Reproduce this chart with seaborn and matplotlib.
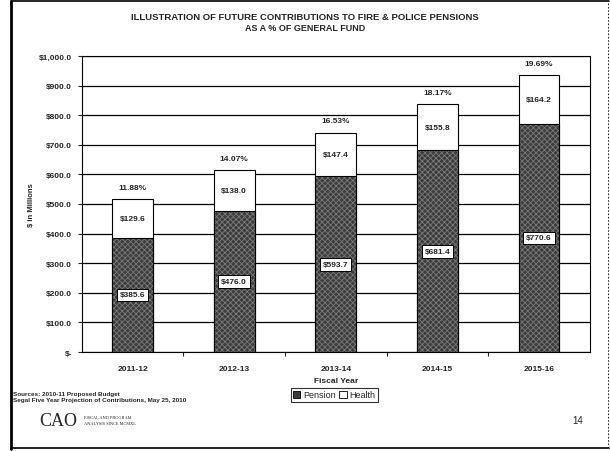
import matplotlib
matplotlib.use("Agg")
import matplotlib.pyplot as plt
import seaborn as sns
import pandas as pd
from matplotlib.lines import Line2D
from matplotlib.patches import Patch

# Fiscal-year contributions ($ millions) and share of General Fund
years = ["2011-12", "2012-13", "2013-14", "2014-15", "2015-16"]
pension = [385.6, 476.0, 593.7, 681.4, 770.6]
health = [129.6, 138.0, 147.4, 155.8, 164.2]
pct_labels = ["11.88%", "14.07%", "16.53%", "18.17%", "19.69%"]
ytick_vals = [0, 100, 200, 300, 400, 500, 600, 700, 800, 900, 1000]

df = pd.DataFrame({"year": years, "pension": pension, "health": health})
df["total"] = df["pension"] + df["health"]

sns.set_theme(style="white")
plt.rcParams["font.family"] = ["Liberation Sans", "DejaVu Sans"]
plt.rcParams["hatch.linewidth"] = 0.6

fig = plt.figure(figsize=(6.10, 4.52), dpi=100)
ax = fig.add_axes([0.134, 0.219, 0.833, 0.655])

# Stacked bars: full height (health on top) first, pension drawn over it
sns.barplot(data=df, x="year", y="total", color="white", width=0.4,
            edgecolor="black", linewidth=0.8, saturation=1, ax=ax, zorder=3)
sns.barplot(data=df, x="year", y="pension", color="#3c3c3c", width=0.4,
            edgecolor="#9a9a9a", linewidth=0, saturation=1, ax=ax, zorder=4,
            hatch="xxxxxx")
for p in ax.patches[len(years):]:
    p.set_edgecolor("#7a7a7a")
# outline pension bars in black
for i, v in enumerate(df["pension"]):
    ax.bar(i, v, width=0.4, facecolor="none", edgecolor="black", linewidth=0.8, zorder=5)

ax.set_ylim(0, 1000)
ax.set_xlim(-0.5, len(years) - 0.5)
ax.set_yticks(ytick_vals)
ax.set_yticklabels(["$-"] + [f"${v:,.1f}" for v in ytick_vals[1:]])
ax.yaxis.grid(True, color="black", linewidth=0.9, zorder=0)
ax.set_axisbelow(True)
for s in ax.spines.values():
    s.set_visible(True)
    s.set_color("black")
    s.set_linewidth(0.8)
ax.spines["right"].set_linestyle((0, (1, 1)))
ax.spines["top"].set_linestyle((0, (1, 1)))

ax.tick_params(axis="y", which="both", left=True, length=3, width=0.8,
               labelsize=6, pad=4)
ax.tick_params(axis="x", bottom=False, labelsize=6, pad=3)
for lab in ax.get_xticklabels() + ax.get_yticklabels():
    lab.set_fontweight("bold")
# category separator ticks on the x axis
ax.set_xticks([i + 0.5 for i in range(len(years) - 1)], minor=True)
ax.tick_params(axis="x", which="minor", bottom=True, length=3, width=0.8)

ax.set_xlabel("Fiscal Year", fontsize=6, fontweight="bold", labelpad=4)
ax.set_ylabel("$ in Millions", fontsize=5.5, fontweight="bold", labelpad=3)

box = dict(boxstyle="square,pad=0.35", facecolor="white", edgecolor="black", linewidth=0.7)
for i, row in df.iterrows():
    ax.text(i, row["pension"] / 2, f"${row['pension']:.1f}", ha="center", va="center",
            fontsize=6, fontweight="bold", bbox=box, zorder=6)
    ax.text(i, row["pension"] + row["health"] / 2, f"${row['health']:.1f}",
            ha="center", va="center", fontsize=6, fontweight="bold", zorder=6)
    ax.annotate(pct_labels[i], (i, row["total"]), xytext=(0, 6),
                textcoords="offset points", ha="center", va="bottom",
                fontsize=6, fontweight="bold", zorder=6)

handles = [Patch(facecolor="#3c3c3c", edgecolor="black", linewidth=0.6, label="Pension"),
           Patch(facecolor="white", edgecolor="black", linewidth=0.6, label="Health")]
leg = fig.legend(handles=handles, loc="center", bbox_to_anchor=(0.548, 0.124), ncol=2,
                 fontsize=6.5, frameon=True, fancybox=False, edgecolor="black",
                 handlelength=0.8, handleheight=0.8, handletextpad=0.3,
                 columnspacing=0.4, borderpad=0.25, borderaxespad=0)
leg.get_frame().set_linewidth(0.8)

fig.text(0.5, 0.962, "ILLUSTRATION OF FUTURE CONTRIBUTIONS TO FIRE & POLICE PENSIONS",
         ha="center", va="center", fontsize=6.8, fontweight="bold")
fig.text(0.5, 0.937, "AS A % OF GENERAL FUND", ha="center", va="center",
         fontsize=6.5, fontweight="bold")

fig.text(0.022, 0.128, "Sources: 2010-11 Proposed Budget", fontsize=4.6,
         fontweight="bold", va="center")
fig.text(0.022, 0.114, "Segal Five Year Projection of Contributions, May 25, 2010",
         fontsize=4.6, fontweight="bold", va="center")

fig.text(0.064, 0.068, "CAO", fontsize=13, family="Liberation Serif", va="center")
fig.text(0.137, 0.076, "FISCAL AND PROGRAM", fontsize=3.2, family="Liberation Serif",
         va="center")
fig.text(0.137, 0.062, "ANALYSIS SINCE MCMXL", fontsize=3.2, family="Liberation Serif",
         va="center")
fig.text(0.947, 0.068, "14", fontsize=7, va="center", ha="center")

# slide frame
fig.add_artist(Line2D([0.018, 0.018], [0.004, 0.996], color="black", linewidth=2,
                      transform=fig.transFigure))
fig.add_artist(Line2D([0.018, 0.998], [0.996, 0.996], color="black", linewidth=1.2,
                      transform=fig.transFigure))
fig.add_artist(Line2D([0.018, 0.998], [0.006, 0.006], color="black", linewidth=1.2,
                      transform=fig.transFigure))
fig.add_artist(Line2D([0.996, 0.996], [0.006, 0.996], color="black", linewidth=0.6,
                      linestyle=(0, (2, 2)), transform=fig.transFigure))

fig.savefig("out.png", dpi=100)
